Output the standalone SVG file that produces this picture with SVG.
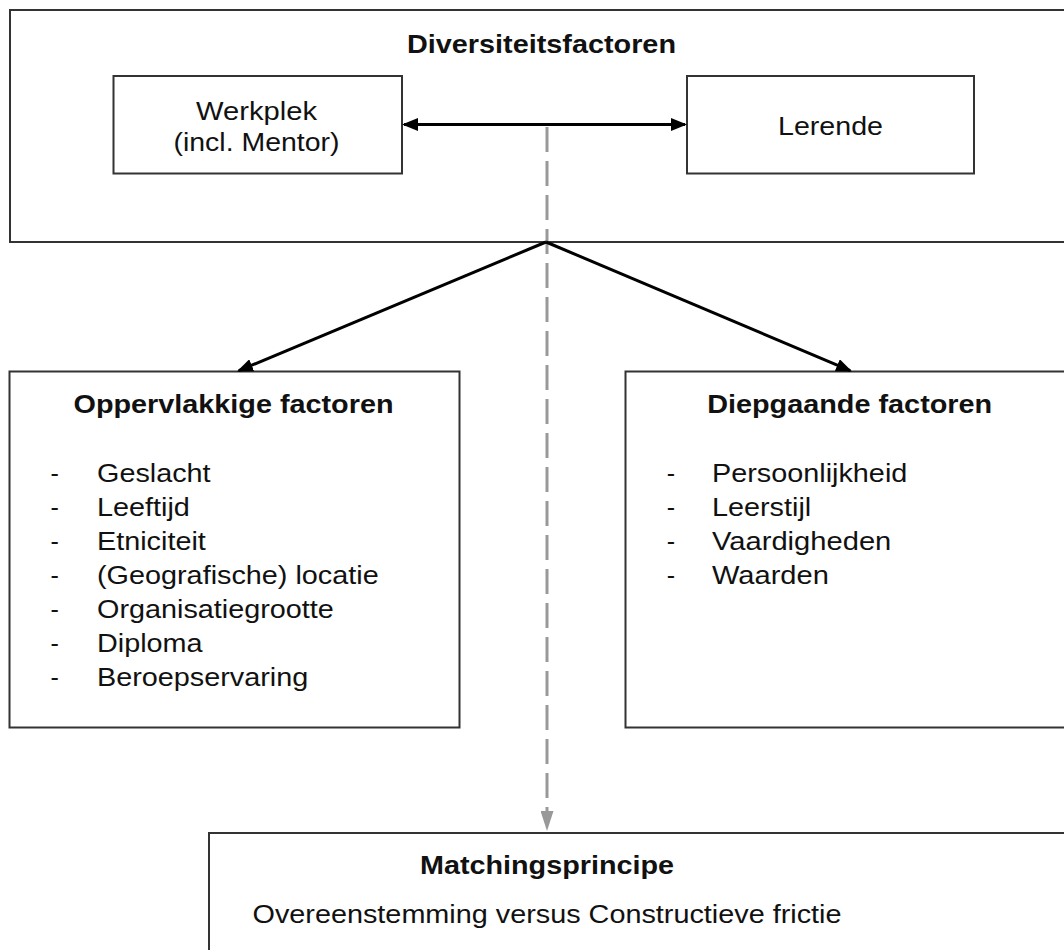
<svg xmlns="http://www.w3.org/2000/svg" width="1064" height="950" viewBox="0 0 1064 950">
  <style>
    .box { fill: #ffffff; stroke: #333333; stroke-width: 2; }
    .t { font-family: "Liberation Sans", Arial, sans-serif; font-size: 25px; fill: #111111; }
    .b { font-weight: bold; }
    .c { text-anchor: middle; }
    .arr { stroke: #000000; stroke-width: 3; fill: none; }
    .dash { stroke: #999999; stroke-width: 3; stroke-dasharray: 25 9; fill: none; }
  </style>
  <defs>
    <marker id="ah" markerUnits="userSpaceOnUse" markerWidth="16" markerHeight="13" refX="14" refY="6.5" orient="auto-start-reverse" viewBox="0 0 16 13">
      <path d="M0,0 L16,6.5 L0,13 z" fill="#000000"/>
    </marker>
    <marker id="ag" markerUnits="userSpaceOnUse" markerWidth="20" markerHeight="13" refX="0" refY="6.5" orient="auto" viewBox="0 0 20 13">
      <path d="M0,0 L20,6.5 L0,13 z" fill="#999999"/>
    </marker>
  </defs>
  <rect width="1064" height="950" fill="#ffffff"/>

  <g id="diversiteitsfactoren">
    <rect class="box" x="10" y="10" width="1070" height="232"/>
    <text class="t b c" x="541.5" y="53" textLength="269" lengthAdjust="spacingAndGlyphs">Diversiteitsfactoren</text>
  </g>

  <g id="werkplek">
    <rect class="box" x="113.5" y="76" width="288.5" height="97.5"/>
    <text class="t c" x="256.5" y="119.5" textLength="121" lengthAdjust="spacingAndGlyphs">Werkplek</text>
    <text class="t c" x="256.5" y="151" textLength="166" lengthAdjust="spacingAndGlyphs">(incl. Mentor)</text>
  </g>

  <g id="lerende">
    <rect class="box" x="687" y="76" width="287" height="97.5"/>
    <text class="t c" x="830.5" y="135" textLength="105" lengthAdjust="spacingAndGlyphs">Lerende</text>
  </g>

  <g id="oppervlakkige">
    <rect class="box" x="9.5" y="371.5" width="450" height="356"/>
    <text class="t b c" x="233.5" y="412.5" textLength="320" lengthAdjust="spacingAndGlyphs">Oppervlakkige factoren</text>
    <g class="t">
      <text x="50.5" y="481.5">-</text>
      <text x="50.5" y="515.6">-</text>
      <text x="50.5" y="549.7">-</text>
      <text x="50.5" y="583.8">-</text>
      <text x="50.5" y="617.9">-</text>
      <text x="50.5" y="652">-</text>
      <text x="50.5" y="686.1">-</text>
      <text x="97" y="481.5" textLength="113.6" lengthAdjust="spacingAndGlyphs">Geslacht</text>
      <text x="97" y="515.6" textLength="92.9" lengthAdjust="spacingAndGlyphs">Leeftijd</text>
      <text x="97" y="549.7" textLength="108.8" lengthAdjust="spacingAndGlyphs">Etniciteit</text>
      <text x="97" y="583.8" textLength="281.7" lengthAdjust="spacingAndGlyphs">(Geografische) locatie</text>
      <text x="97" y="617.9" textLength="236.9" lengthAdjust="spacingAndGlyphs">Organisatiegrootte</text>
      <text x="97" y="652" textLength="105.6" lengthAdjust="spacingAndGlyphs">Diploma</text>
      <text x="97" y="686.1" textLength="211.3" lengthAdjust="spacingAndGlyphs">Beroepservaring</text>
    </g>
  </g>

  <g id="diepgaande">
    <rect class="box" x="625.5" y="371.5" width="460" height="356"/>
    <text class="t b c" x="849.7" y="412.5" textLength="285" lengthAdjust="spacingAndGlyphs">Diepgaande factoren</text>
    <g class="t">
      <text x="666.7" y="481.5">-</text>
      <text x="666.7" y="515.6">-</text>
      <text x="666.7" y="549.7">-</text>
      <text x="666.7" y="583.8">-</text>
      <text x="712" y="481.5" textLength="195.3" lengthAdjust="spacingAndGlyphs">Persoonlijkheid</text>
      <text x="712" y="515.6" textLength="99.2" lengthAdjust="spacingAndGlyphs">Leerstijl</text>
      <text x="712" y="549.7" textLength="179.3" lengthAdjust="spacingAndGlyphs">Vaardigheden</text>
      <text x="712" y="583.8" textLength="116.8" lengthAdjust="spacingAndGlyphs">Waarden</text>
    </g>
  </g>

  <g id="matchingsprincipe">
    <rect class="box" x="209" y="833" width="880" height="140"/>
    <text class="t b c" x="547" y="874" textLength="254" lengthAdjust="spacingAndGlyphs">Matchingsprincipe</text>
    <text class="t c" x="547" y="923" textLength="589" lengthAdjust="spacingAndGlyphs">Overeenstemming versus Constructieve frictie</text>
  </g>

  <g id="connectors">
    <line class="dash" x1="547" y1="127" x2="547" y2="811" marker-end="url(#ag)"/>
    <line class="arr" x1="404" y1="124.5" x2="685" y2="124.5" marker-start="url(#ah)" marker-end="url(#ah)"/>
    <line class="arr" x1="546" y1="242" x2="238.8" y2="370.7" marker-end="url(#ah)"/>
    <line class="arr" x1="546" y1="242" x2="850.2" y2="370.7" marker-end="url(#ah)"/>
  </g>
</svg>
